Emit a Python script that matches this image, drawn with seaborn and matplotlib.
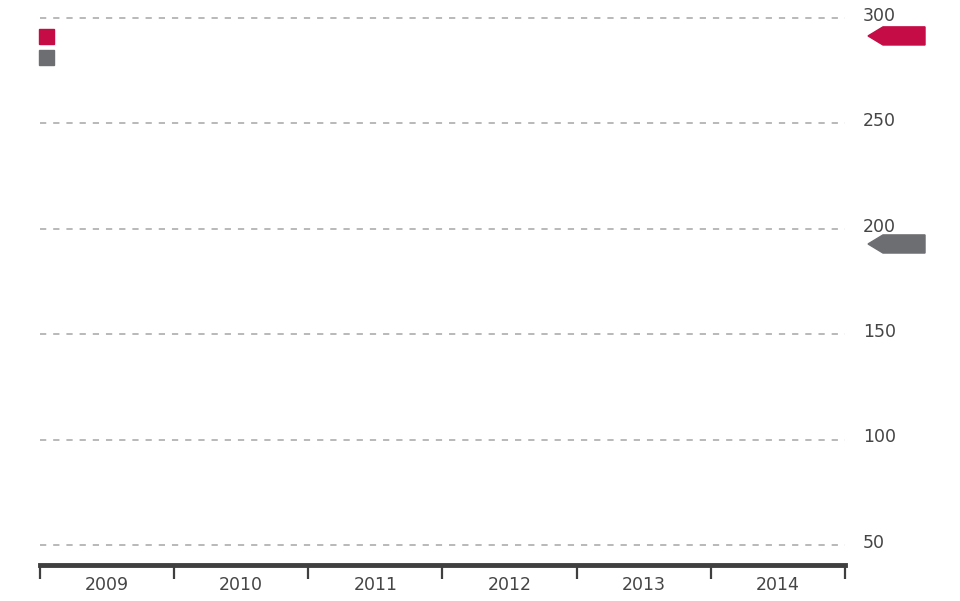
import matplotlib
matplotlib.use("Agg")
import matplotlib.pyplot as plt
import matplotlib.transforms as mtransforms
from matplotlib.patches import Polygon, Rectangle
import seaborn as sns

# Chart data
years = ["2009", "2010", "2011", "2012", "2013", "2014"]
y_ticks = [50, 100, 150, 200, 250, 300]
series_colors = ["#C60C46", "#6D6E71"]
# latest value of each series, shown as the arrow markers on the right
latest_values = [291.5, 192.8]

sns.set_style("white")
plt.rcParams["font.family"] = ["DejaVu Sans"]
plt.rcParams["lines.scale_dashes"] = False

fig = plt.figure(figsize=(9.6, 6.01), dpi=100)
ax = fig.add_axes([40 / 960, 1 - 565 / 601, 805 / 960, 551.2 / 601])
ax.set_xlim(0, len(years))
ax.set_ylim(40.5, 302)

# dashed gridlines
for v in y_ticks:
    ax.axhline(v, color="#a6a6a6", lw=1.1, ls=(0, (4.5, 5)), zorder=1)

# spines
for s in ["top", "right", "left"]:
    ax.spines[s].set_visible(False)
ax.spines["bottom"].set_color("#3f3f3f")
ax.spines["bottom"].set_linewidth(3.5)

# x axis: band boundaries as major ticks, year labels on minor ticks
ax.set_xticks(range(len(years) + 1))
ax.set_xticklabels([])
ax.set_xticks([i + 0.5 for i in range(len(years))], minor=True)
ax.set_xticklabels(years, minor=True)
ax.tick_params(axis="x", which="major", direction="out", length=10,
               width=1.6, color="#3f3f3f", bottom=True)
ax.tick_params(axis="x", which="minor", length=0, pad=8,
               labelsize=12.5, labelcolor="#454545")

# y axis labels on the right
ax.yaxis.tick_right()
ax.set_yticks(y_ticks)
ax.set_yticklabels([str(v) for v in y_ticks])
ax.tick_params(axis="y", length=0, pad=13, labelsize=12.5, labelcolor="#454545")
offset = mtransforms.ScaledTranslation(0, 3 / 72, fig.dpi_scale_trans)
for lab in ax.get_yticklabels():
    lab.set_transform(lab.get_transform() + offset)

# arrow markers for the latest values
trans = mtransforms.blended_transform_factory(ax.transAxes, ax.transData)
half = 4.3
for val, col in zip(latest_values, series_colors):
    pts = [(1.0286, val), (1.0472, val + half), (1.0994, val + half),
           (1.0994, val - half), (1.0472, val - half)]
    ax.add_patch(Polygon(pts, closed=True, transform=trans, color=col,
                         clip_on=False, zorder=3))

# legend squares
for i, col in enumerate(series_colors):
    top = 29 + i * 21
    fig.patches.append(Rectangle((39 / 960, 1 - (top + 15) / 601), 15 / 960, 15 / 601,
                                 transform=fig.transFigure, color=col))

fig.savefig("out.png", dpi=100)
